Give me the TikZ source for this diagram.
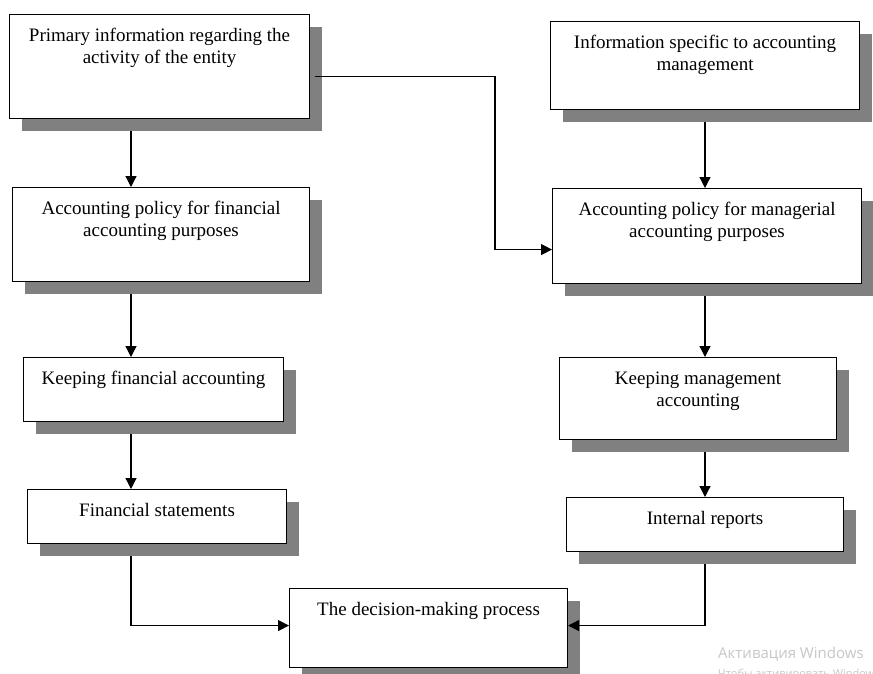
\documentclass[tikz,border=0pt]{standalone}
\usepackage{fontspec}
\setmainfont{Liberation Serif}
\newfontfamily\wmfont{Open Sans}
\usetikzlibrary{arrows.meta,shadows}

\tikzset{
  block/.style 2 args={draw, line width=1.1pt, fill=white, anchor=north west,
    align=flush center, inner sep=0pt, text width=#1, text height=26.5pt, text depth=#2,
    font=\fontsize{19}{22.5}\selectfont,
    drop shadow={shadow xshift=12pt, shadow yshift=-12pt, fill=black!50, opacity=1}},
  arr/.style={line width=1.2pt, -{Triangle[length=11pt,width=11pt]}},
}

\begin{document}
\begin{tikzpicture}[x=1pt,y=-1pt]

  \useasboundingbox[fill=white] (0,0) rectangle (873,673);

  % columns of the vertical arrows
  \coordinate (lcol) at (131,0);
  \coordinate (rcol) at (705,0);
  \coordinate (jog) at (495,0);

  % Left column
  \node[block={300pt}{77.5pt}] (prim) at (9,14) {Primary information regarding the\\activity of the entity};
  \node[block={297pt}{67.5pt}] (polfin) at (12,187) {Accounting policy for financial\\accounting purposes};
  \node[block={260pt}{37.5pt}] (keepfin) at (23,357) {Keeping financial accounting};
  \node[block={259pt}{27.5pt}] (finst) at (27,489) {Financial statements};

  % Right column
  \node[block={309pt}{61.5pt}] (infospec) at (550,21) {Information specific to accounting\\management};
  \node[block={309pt}{68.5pt}] (polman) at (552,188) {Accounting policy for managerial\\accounting purposes};
  \node[block={277pt}{55.5pt}] (keepman) at (559,357) {Keeping management\\accounting};
  \node[block={277pt}{27.5pt}] (intrep) at (566,497) {Internal reports};

  % Bottom
  \node[block={278pt}{52.5pt}] (decide) at (289,588) {The decision-making process};

  % Arrows on the left
  \draw[arr, shorten <=12pt] (prim.south -| lcol) -- (polfin.north -| lcol);
  \draw[arr, shorten <=12pt] (polfin.south -| lcol) -- (keepfin.north -| lcol);
  \draw[arr, shorten <=12pt] (keepfin.south -| lcol) -- (finst.north -| lcol);
  \draw[arr, shorten <=12pt] (finst.south -| lcol) |- ([yshift=2.5pt]decide.west);

  % Arrows on the right
  \draw[arr, shorten <=12pt] (infospec.south -| rcol) -- (polman.north -| rcol);
  \draw[arr, shorten <=12pt] (polman.south -| rcol) -- (keepman.north -| rcol);
  \draw[arr, shorten <=12pt] (keepman.south -| rcol) -- (intrep.north -| rcol);
  \draw[arr, shorten <=12pt] (intrep.south -| rcol) |- ([yshift=2.5pt]decide.east);

  % Cross link
  \draw[arr, shorten <=5pt] ([yshift=-10pt]prim.east) -- ([yshift=-10pt]prim.east -| jog)
    |- ([yshift=-13.5pt]polman.west);

  % Watermark
  \node[anchor=base west, inner sep=0pt, text=black!22, font=\wmfont\fontsize{15}{18}\selectfont] (wm1) at (718,658) {Активация Windows};
  \node[anchor=base west, inner sep=0pt, text=black!22, font=\wmfont\fontsize{11}{13}\selectfont] (wm2) at (718,677) {Чтобы активировать Windows, перейдите в раздел};

\end{tikzpicture}
\end{document}
